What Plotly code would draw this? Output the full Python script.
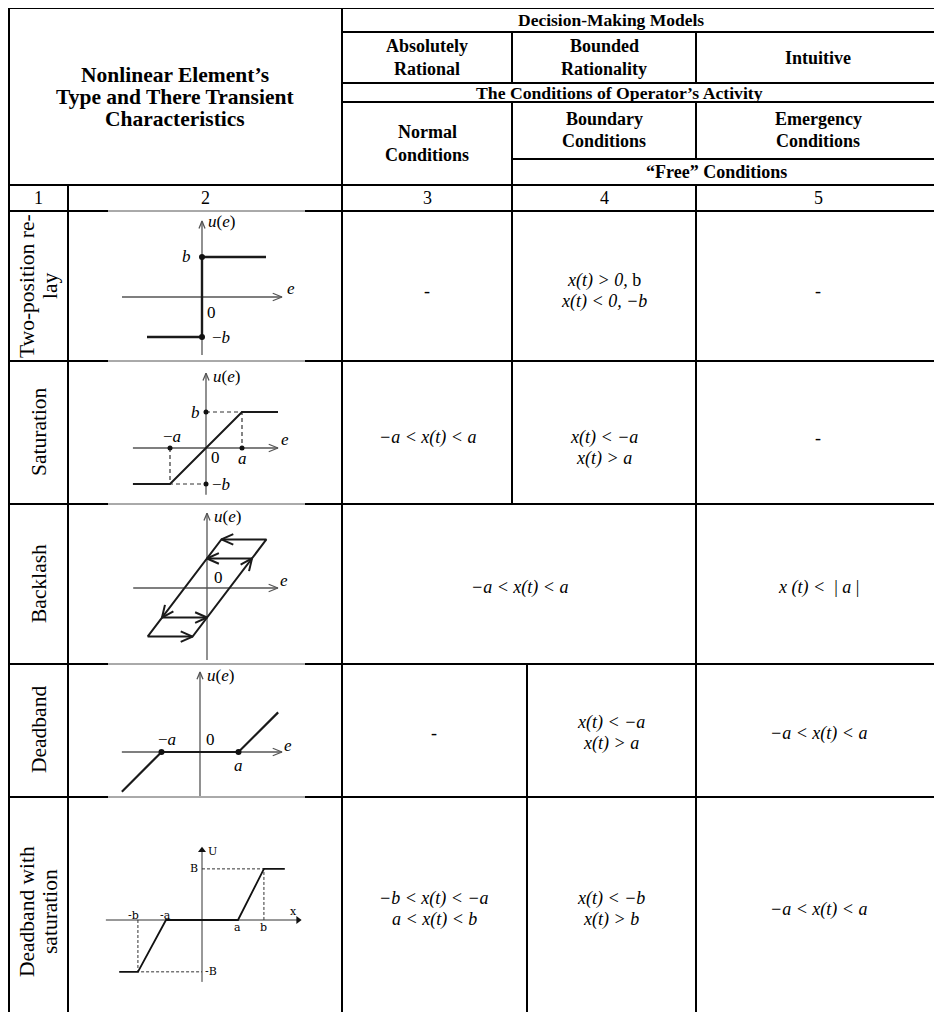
import math
import plotly.graph_objects as go

PAGE_W, PAGE_H = 942, 1012
OFF = 8                      # default body margin of the html page
W, H = PAGE_W - OFF, PAGE_H - OFF

# ---------------- table content ----------------
header_left = ["Nonlinear Element’s", "Type and There Transient", "Characteristics"]
model_title = "Decision-Making Models"
model_names = [["Absolutely", "Rational"], ["Bounded", "Rationality"], ["Intuitive"]]
activity_title = "The Conditions of Operator’s Activity"
condition_names = [["Normal", "Conditions"], ["Boundary", "Conditions"], ["Emergency", "Conditions"]]
free_title = "“Free” Conditions"
column_numbers = ["1", "2", "3", "4", "5"]
row_names = [["Two-position re-", "lay"], ["Saturation"], ["Backlash"],
             ["Deadband"], ["Deadband with", "saturation"]]

# cells of each row: (column span, lines)
relay_cells = [("c3", ["-"]),
               ("c4", ["<i>x(t) &gt; 0,</i> b", "<i>x(t) &lt; 0, −b</i>"]),
               ("c5", ["-"])]
saturation_cells = [("c3", ["<i>−a &lt; x(t) &lt; a</i>", ""]),
                    ("c4", ["<i>x(t) &lt; −a</i>", "<i>x(t) &gt; a</i>"]),
                    ("c5", ["-", ""])]
backlash_cells = [("c34", ["<i>−a &lt; x(t) &lt; a</i>"]),
                  ("c5", ["<i>x (t) &lt;</i>  |<i> a </i>|"])]
deadband_cells = [("c3d", ["-"]),
                  ("c4d", ["<i>x(t) &lt; −a</i>", "<i>x(t) &gt; a</i>"]),
                  ("c5", ["<i>−a &lt; x(t) &lt; a</i>"])]
dzsat_cells = [("c3d", ["<i>−b &lt; x(t) &lt; −a</i>", "<i>a &lt; x(t) &lt; b</i>"]),
               ("c4d", ["<i>x(t) &lt; −b</i>", "<i>x(t) &gt; b</i>"]),
               ("c5", ["<i>−a &lt; x(t) &lt; a</i>"])]
row_cells = [relay_cells, saturation_cells, backlash_cells, deadband_cells, dzsat_cells]

# ---------------- characteristic curves (math units) ----------------
relay_e = [-1.375, 0, 0, 1.6]
relay_u = [-1, -1, 1, 1]
relay_dot_e = [0, 0]
relay_dot_u = [1, -1]
relay_axis_e = [-2.0, 2.0]
relay_axis_u = [-1.45, 1.9]

sat_e = [-2.03, -1, 1, 2.0]
sat_u = [-1, -1, 1, 1]
sat_dash1_e = [0, 1, 1]
sat_dash1_u = [1, 1, 0]
sat_dash2_e = [-1, -1, 0]
sat_dash2_u = [0, -1, -1]
sat_dot_e = [0, 1, -1, 0]
sat_dot_u = [1, 0, 0, -1]
sat_axis_e = [-2.03, 2.0]
sat_axis_u = [-1.3, 2.08]

bl_outline_e = [-1.65, 0.4, 1.65, -0.4, -1.65]
bl_outline_u = [-1.35, 1.35, 1.35, -1.35, -1.35]
bl_upper_e = [1.25, 0]
bl_upper_u = [0.82, 0.82]
bl_lower_e = [-1.25, 0]
bl_lower_u = [-0.82, -0.82]
bl_arrow_tip_e = [0.4, 0, 1.25, 0, -1.25, -0.4]
bl_arrow_tip_u = [1.35, 0.82, 0.82, -0.82, -0.82, -1.35]
bl_arrow_dir_e = [-1, -1, 2.05, 1, -2.05, 1]
bl_arrow_dir_u = [0, 0, 2.7, 0, -2.7, 0]
bl_axis_e = [-2.05, 1.97]
bl_axis_u = [-2.0, 2.08]

dz_e = [-2.03, -1, 1, 2.03]
dz_u = [-1.03, 0, 0, 1.03]
dz_dot_e = [-1, 1]
dz_dot_u = [0, 0]
dz_axis_e = [-2.03, 2.13]
dz_axis_u = [-1.17, 2.08]

dzs_e = [-2.3, -1.78, -1, 1, 1.72, 2.3]
dzs_u = [-1.44, -1.44, 0, 0, 1.42, 1.42]
dzs_dash1_e = [0, 1.72, 1.72]
dzs_dash1_u = [1.42, 1.42, 0]
dzs_dash2_e = [-1.78, -1.78, 0]
dzs_dash2_u = [0, -1.44, -1.44]
dzs_axis_e = [-2.67, 2.67]
dzs_axis_u = [-1.72, 1.94]

# ---------------- layout geometry (page pixels) ----------------
SERIF = "Liberation Serif"
BLACK = "#000000"
X_LEFT, X_RIGHT, Y_TOP = 9, 940, 8
COLX = {"c1": 38, "c2": 205, "c3": 427, "c4": 604, "c5": 818,
        "c34": 519, "c3d": 434, "c4d": 611}
ROW_BOUNDS = [(211, 361), (361, 504), (504, 664), (664, 797), (797, 1012)]
ROW_TEXT_Y = [291, 448, 587, 733, 909]
LINE_GAP = 21

fig = go.Figure()
shapes = []
annotations = []


def hline(y, x0, x1, w=2, color=BLACK):
    shapes.append(dict(type="line", xref="x", yref="y", x0=x0, x1=x1, y0=y, y1=y,
                       line=dict(color=color, width=w)))


def vline(x, y0, y1, w=2, color=BLACK):
    shapes.append(dict(type="line", xref="x", yref="y", x0=x, x1=x, y0=y0, y1=y1,
                       line=dict(color=color, width=w)))


def text(x, y, s, size=18, bold=False, angle=0, xref="x", yref="y", anchor="center",
         family=SERIF, color=BLACK):
    if bold:
        s = "<b>" + s + "</b>"
    annotations.append(dict(x=x, y=y, xref=xref, yref=yref, text=s, showarrow=False,
                            textangle=angle, xanchor=anchor, yanchor="middle",
                            font=dict(family=family, size=size, color=color)))


# grid lines
hline(Y_TOP, X_LEFT, X_RIGHT)
for y in (32, 83, 102):
    hline(y, 342, X_RIGHT)
hline(159, 512, X_RIGHT)
hline(185, X_LEFT, X_RIGHT)
for y in (211, 361, 504, 664, 797):
    hline(y, X_LEFT, 108)
    hline(y, 305, X_RIGHT)
    hline(y, 108, 305, w=1, color="#555555")
vline(X_LEFT, Y_TOP, PAGE_H)
vline(68, 185, PAGE_H)
vline(342, Y_TOP, PAGE_H)
vline(512, 32, 83)
vline(512, 102, 504)
vline(527, 664, PAGE_H)
vline(696, 32, 83)
vline(696, 102, 159)
vline(696, 185, PAGE_H)
vline(X_RIGHT, Y_TOP, PAGE_H)

# header texts
for i, s in enumerate(header_left):
    text(175, 75 + i * 22, s, size=21.5, bold=True)
text(611, 20, model_title, size=17.5, bold=True)
for cx, lines in zip((427, 604, 818), model_names):
    ys = [58] if len(lines) == 1 else [46, 69]
    for y, s in zip(ys, lines):
        text(cx, y, s, size=18, bold=True)
text(619, 93, activity_title, size=17.7, bold=True)
for cx, lines, ys in zip((427, 604, 818), condition_names, ([132, 155], [119, 141], [119, 141])):
    for y, s in zip(ys, lines):
        text(cx, y, s, size=18, bold=True)
text(716, 172, free_title, size=18, bold=True)
for key, s in zip(("c1", "c2", "c3", "c4", "c5"), column_numbers):
    text(COLX[key], 198, s, size=18)

# row names (rotated)
for names, ty in zip(row_names, (286, 432, 584, 730, 912)):
    if len(names) == 1:
        text(39, ty, names[0], size=21.5, angle=-90)
    else:
        text(27, ty, names[0], size=21.5, angle=-90)
        text(50, ty, names[1], size=21.5, angle=-90)

# cell texts
for cells, cy in zip(row_cells, ROW_TEXT_Y):
    for key, lines in cells:
        n = len(lines)
        for i, s in enumerate(lines):
            if s:
                text(COLX[key], cy + (i - (n - 1) / 2) * LINE_GAP, s, size=18)

# ---------------- diagrams on their own axes ----------------
DIAG = [dict(ox=202, oy=297, sx=40, sy=40),
        dict(ox=206, oy=448, sx=36, sy=36),
        dict(ox=207, oy=588, sx=36, sy=36),
        dict(ox=200, oy=752, sx=38.5, sy=38.5),
        dict(ox=202, oy=920, sx=36, sy=36)]
CELL_X0, CELL_X1 = 70, 340
layout_axes = {}
for k, (d, (r0, r1)) in enumerate(zip(DIAG, ROW_BOUNDS)):
    n = k + 2
    py0, py1 = r0 + 1, r1 - 1
    layout_axes[f"xaxis{n}"] = dict(domain=[(CELL_X0 - OFF) / W, (CELL_X1 - OFF) / W],
                                    range=[(CELL_X0 - d["ox"]) / d["sx"], (CELL_X1 - d["ox"]) / d["sx"]],
                                    visible=False, anchor=f"y{n}", fixedrange=True)
    layout_axes[f"yaxis{n}"] = dict(domain=[1 - (py1 - OFF) / H, 1 - (py0 - OFF) / H],
                                    range=[(d["oy"] - py1) / d["sy"], (d["oy"] - py0) / d["sy"]],
                                    visible=False, anchor=f"x{n}", fixedrange=True)


def vhead(tip_e, tip_u, de, du, sx, sy, size=9, ang=24):
    dxp, dyp = de * sx, du * sy
    nrm = math.hypot(dxp, dyp)
    ux, uy = dxp / nrm, dyp / nrm
    wings = []
    for s in (1, -1):
        a = math.radians(ang) * s
        bx = -(ux * math.cos(a) - uy * math.sin(a))
        by = -(ux * math.sin(a) + uy * math.cos(a))
        wings.append((tip_e + bx * size / sx, tip_u + by * size / sy))
    xs = [wings[0][0], tip_e, wings[1][0], None]
    ys = [wings[0][1], tip_u, wings[1][1], None]
    return xs, ys


def line_trace(n, xs, ys, color="#1a1a1a", width=2.2, dash=None, mode="lines"):
    fig.add_trace(go.Scatter(x=xs, y=ys, mode=mode, xaxis=f"x{n}", yaxis=f"y{n}",
                             line=dict(color=color, width=width, dash=dash),
                             hoverinfo="skip", showlegend=False, cliponaxis=False))


def dots(n, xs, ys, size=6):
    fig.add_trace(go.Scatter(x=xs, y=ys, mode="markers", xaxis=f"x{n}", yaxis=f"y{n}",
                             marker=dict(color="#111111", size=size),
                             hoverinfo="skip", showlegend=False, cliponaxis=False))


def axes_with_heads(n, d, axe, axu, color="#555555", width=1.3):
    line_trace(n, [axe[0], axe[1], None, 0, 0], [0, 0, None, axu[0], axu[1]], color=color, width=width)
    hx, hy = vhead(axe[1], 0, 1, 0, d["sx"], d["sy"], size=10, ang=22)
    vx, vy = vhead(0, axu[1], 0, 1, d["sx"], d["sy"], size=8, ang=22)
    line_trace(n, hx + vx, hy + vy, color=color, width=width)


def dlabel(n, x, y, s, size=17, anchor="center", family=SERIF):
    text(x, y, s, size=size, xref=f"x{n}", yref=f"y{n}", anchor=anchor, family=family)


# 1. two-position relay
d = DIAG[0]
axes_with_heads(2, d, relay_axis_e, relay_axis_u)
line_trace(2, relay_e, relay_u, width=2.4)
dots(2, relay_dot_e, relay_dot_u)
dlabel(2, 0.1, 1.9, "<i>u</i>(<i>e</i>)", anchor="left")
dlabel(2, -0.38, 1.02, "<i>b</i>")
dlabel(2, 2.22, 0.22, "<i>e</i>")
dlabel(2, 0.08, -0.38, "0", anchor="left")
dlabel(2, 0.2, -1.02, "−<i>b</i>", anchor="left")

# 2. saturation
d = DIAG[1]
axes_with_heads(3, d, sat_axis_e, sat_axis_u)
line_trace(3, sat_dash1_e, sat_dash1_u, color="#333333", width=1.2, dash="4px,3px")
line_trace(3, sat_dash2_e, sat_dash2_u, color="#333333", width=1.2, dash="4px,3px")
line_trace(3, sat_e, sat_u, width=2.0)
dots(3, sat_dot_e, sat_dot_u, size=5)
dlabel(3, 0.14, 2.0, "<i>u</i>(<i>e</i>)", anchor="left")
dlabel(3, -0.3, 1.0, "<i>b</i>")
dlabel(3, -0.95, 0.33, "−<i>a</i>")
dlabel(3, 2.2, 0.25, "<i>e</i>")
dlabel(3, 0.08, -0.27, "0", anchor="left")
dlabel(3, 1.0, -0.3, "<i>a</i>")
dlabel(3, 0.12, -1.0, "−<i>b</i>", anchor="left")

# 3. backlash
d = DIAG[2]
axes_with_heads(4, d, bl_axis_e, bl_axis_u)
line_trace(4, bl_outline_e, bl_outline_u, width=2.0)
line_trace(4, bl_upper_e + [None] + bl_lower_e, bl_upper_u + [None] + bl_lower_u, width=2.0)
ax_, ay_ = [], []
for te, tu, de, du in zip(bl_arrow_tip_e, bl_arrow_tip_u, bl_arrow_dir_e, bl_arrow_dir_u):
    hx, hy = vhead(te, tu, de, du, d["sx"], d["sy"], size=13, ang=24)
    ax_ += hx
    ay_ += hy
line_trace(4, ax_, ay_, width=2.0)
dlabel(4, 0.14, 2.0, "<i>u</i>(<i>e</i>)", anchor="left")
dlabel(4, 0.15, 0.3, "0", anchor="left")
dlabel(4, 2.15, 0.22, "<i>e</i>")

# 4. deadband
d = DIAG[3]
axes_with_heads(5, d, dz_axis_e, dz_axis_u)
line_trace(5, dz_e, dz_u, width=2.2)
dots(5, dz_dot_e, dz_dot_u, size=6)
dlabel(5, 0.12, 1.98, "<i>u</i>(<i>e</i>)", anchor="left")
dlabel(5, -0.85, 0.33, "−<i>a</i>")
dlabel(5, 0.1, 0.33, "0", anchor="left")
dlabel(5, 2.28, 0.18, "<i>e</i>")
dlabel(5, 1.0, -0.36, "<i>a</i>")

# 5. deadband with saturation
d = DIAG[4]
line_trace(6, [dzs_axis_e[0], dzs_axis_e[1], None, 0, 0], [0, 0, None, dzs_axis_u[0], dzs_axis_u[1]],
           color="#333333", width=1.0)
fig.add_trace(go.Scatter(x=[dzs_axis_e[1], 0], y=[0, dzs_axis_u[1]], mode="markers",
                         xaxis="x6", yaxis="y6", hoverinfo="skip", showlegend=False, cliponaxis=False,
                         marker=dict(symbol=["triangle-right", "triangle-up"], size=7, color="#111111")))
line_trace(6, dzs_dash1_e, dzs_dash1_u, color="#333333", width=1.0, dash="3px,2px")
line_trace(6, dzs_dash2_e, dzs_dash2_u, color="#333333", width=1.0, dash="3px,2px")
line_trace(6, dzs_e, dzs_u, color="#111111", width=1.8)
SMALL = "DejaVu Serif"
dlabel(6, 0.12, 1.9, "U", size=11, anchor="left", family=SMALL)
dlabel(6, -0.22, 1.42, "B", size=11, family=SMALL)
dlabel(6, 2.53, 0.24, "x", size=11, family=SMALL)
dlabel(6, -1.9, 0.12, "-b", size=11, family=SMALL)
dlabel(6, -1.02, 0.12, "-a", size=11, family=SMALL)
dlabel(6, 0.98, -0.22, "a", size=11, family=SMALL)
dlabel(6, 1.72, -0.22, "b", size=11, family=SMALL)
dlabel(6, 0.04, -1.44, "-B", size=11, anchor="left", family=SMALL)

fig.update_layout(
    width=W, height=H, autosize=False,
    margin=dict(l=0, r=0, t=0, b=0),
    paper_bgcolor="white", plot_bgcolor="rgba(0,0,0,0)",
    xaxis=dict(domain=[0, 1], range=[OFF, PAGE_W], visible=False, fixedrange=True),
    yaxis=dict(domain=[0, 1], range=[PAGE_H, OFF], visible=False, fixedrange=True),
    shapes=shapes, annotations=annotations, showlegend=False,
    **layout_axes,
)

fig.write_html("out.html")
